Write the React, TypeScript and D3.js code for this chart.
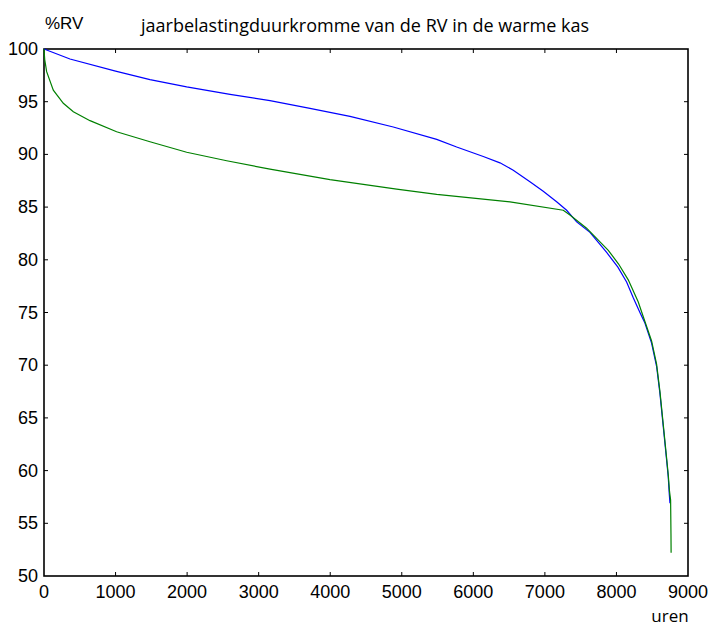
import { useEffect, useRef } from 'react'
import * as d3 from 'd3'

// uren (hours) and %RV
const blueHours = [0, 363, 1000, 1481, 1994, 2600, 3158, 3717, 4276, 4881, 5488, 5767, 6139, 6372, 6558, 6791, 6977, 7164, 7304, 7444, 7630, 7863, 8020, 8142, 8235, 8328, 8398, 8491, 8561, 8608, 8654, 8701, 8724, 8738, 8748]
const blueRV = [100, 99.05, 97.9, 97.1, 96.4, 95.7, 95.1, 94.37, 93.6, 92.6, 91.43, 90.7, 89.8, 89.2, 88.5, 87.4, 86.5, 85.5, 84.7, 83.6, 82.6, 80.7, 79.3, 77.9, 76.4, 75.0, 74.0, 72.1, 69.9, 67.3, 64.2, 61.0, 59.4, 57.8, 56.9]

const greenHours = [0, 10, 37, 130, 270, 410, 643, 1015, 1481, 1994, 2553, 3158, 3997, 4928, 5488, 6512, 7257, 7350, 7583, 7886, 8030, 8165, 8305, 8375, 8491, 8561, 8608, 8654, 8701, 8724, 8742, 8757, 8762, 8764]
const greenRV = [100, 99.0, 97.85, 96.1, 94.85, 94.05, 93.2, 92.15, 91.2, 90.2, 89.4, 88.6, 87.6, 86.7, 86.2, 85.5, 84.7, 84.25, 83.0, 80.9, 79.6, 78.1, 76.0, 74.6, 72.3, 70.1, 67.5, 64.4, 61.2, 59.6, 58.0, 57.2, 54.0, 52.2]

const xTicks = d3.range(0, 9001, 1000)
const yTicks = d3.range(50, 101, 5)

export default function App() {
  const ref = useRef<SVGSVGElement>(null)

  useEffect(() => {
    const svg = d3.select(ref.current)
    svg.selectAll('*').remove()

    const left = 44, right = 688, top = 49, bottom = 576
    const x = d3.scaleLinear().domain([0, 9000]).range([left, right])
    const y = d3.scaleLinear().domain([50, 100]).range([bottom, top])
    const tickFont = '"Liberation Sans", Arial, sans-serif'

    // frame
    svg.append('rect')
      .attr('x', left).attr('y', top)
      .attr('width', right - left).attr('height', bottom - top)
      .attr('fill', 'none').attr('stroke', '#000').attr('stroke-width', 1.6)

    // ticks pointing inwards on all four sides
    const tl = 4
    const g = svg.append('g').attr('stroke', '#000').attr('stroke-width', 1)
    xTicks.slice(1, -1).forEach(t => {
      g.append('line').attr('x1', x(t)).attr('x2', x(t)).attr('y1', bottom).attr('y2', bottom - tl)
      g.append('line').attr('x1', x(t)).attr('x2', x(t)).attr('y1', top).attr('y2', top + tl)
    })
    yTicks.slice(1, -1).forEach(t => {
      g.append('line').attr('x1', left).attr('x2', left + tl).attr('y1', y(t)).attr('y2', y(t))
      g.append('line').attr('x1', right).attr('x2', right - tl).attr('y1', y(t)).attr('y2', y(t))
    })

    svg.append('g').selectAll('text')
      .data(xTicks).enter().append('text')
      .attr('x', d => x(d)).attr('y', bottom + 22)
      .attr('text-anchor', 'middle')
      .style('font-family', tickFont).style('font-size', '18px')
      .text(d => d)

    svg.append('g').selectAll('text')
      .data(yTicks).enter().append('text')
      .attr('x', left - 6).attr('y', d => y(d) + 6)
      .attr('text-anchor', 'end')
      .style('font-family', tickFont).style('font-size', '18px')
      .text(d => d)

    const line = d3.line<[number, number]>().x(d => x(d[0])).y(d => y(d[1]))

    svg.append('path')
      .attr('d', line(blueHours.map((h, i) => [h, blueRV[i]])))
      .attr('fill', 'none').attr('stroke', '#0000ff').attr('stroke-width', 1.2)

    svg.append('path')
      .attr('d', line(greenHours.map((h, i) => [h, greenRV[i]])))
      .attr('fill', 'none').attr('stroke', '#008000').attr('stroke-width', 1.2)

    svg.append('text')
      .attr('x', 45).attr('y', 29)
      .style('font-family', tickFont).style('font-size', '17px')
      .text('%RV')

    svg.append('text')
      .attr('x', 365).attr('y', 32)
      .attr('text-anchor', 'middle')
      .style('font-family', '"Open Sans", sans-serif').style('font-size', '18px')
      .text('jaarbelastingduurkromme van de RV in de warme kas')

    svg.append('text')
      .attr('x', 670).attr('y', 622)
      .attr('text-anchor', 'middle')
      .style('font-family', '"Open Sans", sans-serif').style('font-size', '17px')
      .text('uren')
  }, [])

  return (
    <svg ref={ref} width={712} height={626}
      style={{ position: 'absolute', left: 0, top: 0, background: '#fff' }} />
  )
}
